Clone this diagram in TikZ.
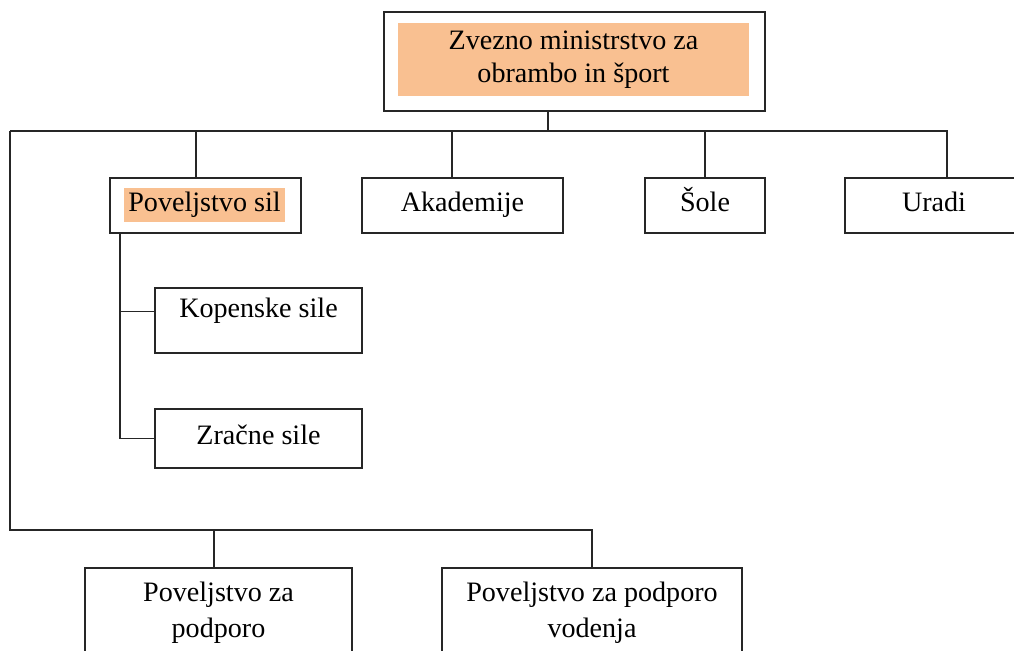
\documentclass[tikz,border=0pt]{standalone}
\usepackage{fontspec}
\setmainfont{Liberation Serif}
\usetikzlibrary{calc,positioning}
\definecolor{peach}{RGB}{249,192,145}

\begin{document}
\begin{tikzpicture}[x=0.02cm,y=-0.02cm,line width=0.9pt,draw=black!85]
%                 [ MINISTRY ]
%                      |
%   +------+-----------+---------+--------+
%   |      |           |         |        |
%   |    [SIL]     [AKADEMIJE] [SOLE]  [URADI]
%   |      +--[KOPENSKE]
%   |      +--[ZRACNE]
%   +-------+-----------+
%       [PODPORO]   [VODENJA]
    \tikzstyle{every node}=[font=\fontsize{16}{19}\selectfont]
    \tikzstyle{unit}=[draw=black!85, line width=0.9pt, align=center, inner sep=0pt]
    \tikzstyle{oneline}=[text height=11pt, text depth=4pt]
    \tikzstyle{hilite}=[fill=peach, align=center, inner sep=0pt]
    \tikzstyle{twoline}=[font=\fontsize{16}{20.5}\selectfont]

    \useasboundingbox (0,0) rectangle (1014,650);

    \node[unit, minimum width=7.62cm, minimum height=1.98cm] (ministry) at (574.5,61.5) {};
    \node[hilite, minimum width=7.02cm, minimum height=1.46cm] (ministrytxt) at (573.5,59.5) {Zvezno ministrstvo za\\obrambo in šport};

    \node[unit, minimum width=3.82cm, minimum height=1.1cm] (sil) at (205.5,205.5) {};
    \node[hilite, oneline, minimum width=3.22cm, minimum height=0.68cm] (siltxt) at (204.5,205) {Poveljstvo sil};
    \node[unit, oneline, minimum width=4.02cm, minimum height=1.1cm] (akademije) at (462.5,205.5) {Akademije};
    \node[unit, oneline, minimum width=2.4cm, minimum height=1.1cm] (sole) at (705,205.5) {Šole};
    \node[unit, oneline, minimum width=3.56cm, minimum height=1.1cm] (uradi) at (934,205.5) {Uradi};

    % Sub-units of Poveljstvo sil
    \node[unit, minimum width=4.14cm, minimum height=1.3cm] (kopenske) at (258.5,320.5) {};
    \node[oneline] (kopensketxt) at (258.5,311) {Kopenske sile};
    \node[unit, oneline, minimum width=4.14cm, minimum height=1.18cm] (zracne) at (258.5,438.5) {Zračne sile};

    % Support commands
    \node[unit, twoline, minimum width=5.34cm, minimum height=1.8cm] (podporo) at (218.5,613) {Poveljstvo za\\podporo};
    \node[unit, twoline, minimum width=6.0cm, minimum height=1.8cm] (vodenja) at (592,613) {Poveljstvo za podporo\\vodenja};

    \coordinate (barL) at (10,131);
    \coordinate (barR) at (947,131);
    \coordinate (barB) at (592,530);
    \coordinate (top) at ($(ministry.south)+(-26.5,0)$);
    \coordinate (silin) at ($(sil.north)+(-9.5,0)$);
    \coordinate (akin) at ($(akademije.north)+(-10.5,0)$);
    \coordinate (silout) at ($(sil.south)+(-85.5,0)$);
    \coordinate (kopin) at ($(kopenske.west)+(0,-9)$);
    \coordinate (podin) at ($(podporo.north)+(-4.5,0)$);

    \draw (top) -- (top |- barL);
    \draw (barL) -- (barR) -- (barR |- uradi.north);
    \draw (silin |- barL) -- (silin);
    \draw (akin |- barL) -- (akin);
    \draw (sole.north |- barL) -- (sole.north);

    \draw (silout) |- (zracne.west);
    \draw (kopin -| silout) -- (kopin);

    \draw (barL) |- (barB) -- (vodenja.north);
    \draw (podin |- barB) -- (podin);
\end{tikzpicture}
\end{document}
